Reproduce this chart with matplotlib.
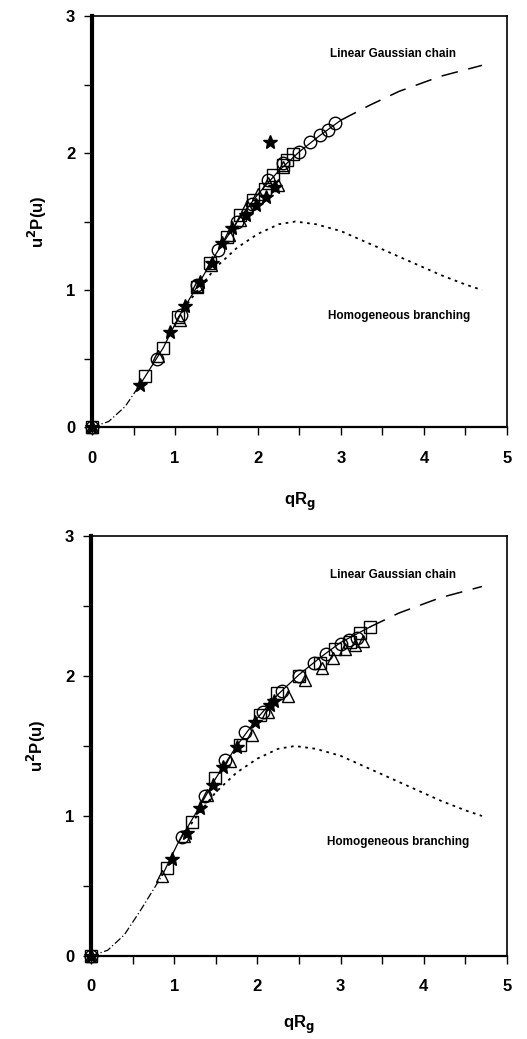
"""Kratky-type plot u^2 P(u) vs qRg, two stacked panels."""

import matplotlib
matplotlib.use("Agg")
import matplotlib.pyplot as plt
from matplotlib.ticker import MultipleLocator

plt.rcParams["font.family"] = ["Liberation Sans", "DejaVu Sans"]
plt.rcParams["font.weight"] = "bold"
plt.rcParams["mathtext.default"] = "bf"

# theory curves (same in both panels)
gauss_x = [0.0, 0.2, 0.4, 0.6, 0.86, 1.04, 1.27, 1.5, 1.75, 2.0, 2.25, 2.5,
           2.75, 3.0, 3.35, 3.7, 4.2, 4.7]
gauss_y = [0.0, 0.04, 0.15, 0.33, 0.58, 0.80, 1.03, 1.27, 1.50, 1.70, 1.87,
           2.01, 2.13, 2.24, 2.35, 2.45, 2.56, 2.64]
branch_x = [1.15, 1.3, 1.5, 1.75, 2.0, 2.25, 2.45, 2.7, 3.0, 3.3, 3.6, 3.9,
            4.2, 4.5, 4.7]
branch_y = [0.90, 1.02, 1.17, 1.31, 1.41, 1.48, 1.50, 1.48, 1.43, 1.35, 1.27,
            1.19, 1.11, 1.04, 1.00]

# top panel data
top_star_x = [0.0, 0.58, 0.94, 1.12, 1.30, 1.45, 1.57, 1.69, 1.85, 1.97, 2.10, 2.20, 2.14]
top_star_y = [0.0, 0.31, 0.69, 0.88, 1.06, 1.20, 1.34, 1.45, 1.55, 1.62, 1.68, 1.75, 2.08]
top_sq_x = [0.0, 0.64, 0.86, 1.04, 1.27, 1.42, 1.63, 1.78, 1.94, 2.08, 2.18, 2.30, 2.35, 2.42]
top_sq_y = [0.0, 0.37, 0.58, 0.80, 1.02, 1.20, 1.39, 1.55, 1.66, 1.74, 1.84, 1.91, 1.95, 1.99]
top_circ_x = [0.0, 0.78, 1.07, 1.26, 1.52, 1.75, 1.93, 2.12, 2.30, 2.50, 2.63, 2.75, 2.84, 2.93]
top_circ_y = [0.0, 0.50, 0.82, 1.04, 1.29, 1.50, 1.63, 1.80, 1.93, 2.01, 2.08, 2.13, 2.17, 2.22]
top_tri_x = [0.0, 0.80, 1.06, 1.27, 1.43, 1.65, 1.78, 1.87, 2.00, 2.12, 2.24, 2.30]
top_tri_y = [0.0, 0.52, 0.78, 1.03, 1.18, 1.40, 1.51, 1.61, 1.70, 1.78, 1.77, 1.90]

# bottom panel data
bot_star_x = [0.0, 0.97, 1.15, 1.31, 1.47, 1.59, 1.75, 1.97, 2.15, 2.20]
bot_star_y = [0.0, 0.69, 0.88, 1.06, 1.22, 1.35, 1.49, 1.67, 1.79, 1.82]
bot_sq_x = [0.0, 0.91, 1.21, 1.49, 1.79, 2.03, 2.24, 2.50, 2.75, 2.93, 3.11, 3.23, 3.35]
bot_sq_y = [0.0, 0.63, 0.96, 1.27, 1.51, 1.72, 1.88, 2.00, 2.09, 2.19, 2.24, 2.31, 2.35]
bot_circ_x = [0.0, 1.09, 1.37, 1.61, 1.85, 2.07, 2.30, 2.50, 2.68, 2.83, 3.00, 3.10, 3.20]
bot_circ_y = [0.0, 0.85, 1.14, 1.40, 1.60, 1.74, 1.89, 2.00, 2.09, 2.16, 2.23, 2.26, 2.27]
bot_tri_x = [0.0, 0.85, 1.12, 1.40, 1.67, 1.93, 2.13, 2.37, 2.57, 2.78, 2.91, 3.05, 3.17, 3.27]
bot_tri_y = [0.0, 0.57, 0.86, 1.15, 1.39, 1.58, 1.74, 1.86, 1.97, 2.06, 2.13, 2.19, 2.22, 2.25]


def split_curve(xs, ys, lo, hi):
    # segments share their end points so the line has no gaps
    i = next(k for k, x in enumerate(xs) if x >= lo)
    j = next(k for k, x in enumerate(xs) if x >= hi)
    pts = list(zip(xs, ys))
    return pts[: i + 1], pts[i: j + 1], pts[j:]


def draw_panel(ax, stars, squares, circles, tris, dashdot_end, dashed_start, xpad):
    a, b, c = split_curve(gauss_x, gauss_y, dashdot_end, dashed_start)
    ax.plot(*zip(*a), color="black", lw=0.9, ls=(0, (6, 2, 1, 2)))
    ax.plot(*zip(*b), color="black", lw=0.9)
    ax.plot(*zip(*c), color="black", lw=1.1, ls=(0, (11, 7)))
    ax.plot(branch_x, branch_y, color="black", lw=1.3, ls=(0, (1.5, 2.5)))

    mk = dict(ls="none", mec="black", mew=1.0, clip_on=False, zorder=4)
    ax.plot(*squares, marker="s", ms=8.5, mfc="none", **mk)
    ax.plot(*circles, marker="o", ms=9, mfc="none", **mk)
    ax.plot(*tris, marker="^", ms=9, mfc="none", **mk)
    ax.plot(*stars, marker="*", ms=10, mfc="black", **mk)

    ax.set_xlim(0, 5)
    ax.set_ylim(0, 3)
    ax.xaxis.set_major_locator(MultipleLocator(1))
    ax.xaxis.set_minor_locator(MultipleLocator(0.5))
    ax.yaxis.set_major_locator(MultipleLocator(1))
    ax.yaxis.set_minor_locator(MultipleLocator(0.5))
    ax.tick_params(which="both", direction="out", length=6, width=1.0,
                   labelsize=12)
    ax.tick_params(axis="x", pad=11)
    ax.tick_params(axis="y", pad=6)
    ax.spines["left"].set_linewidth(3.0)
    ax.spines["bottom"].set_linewidth(1.6)
    ax.spines["top"].set_linewidth(1.2)
    ax.spines["right"].set_linewidth(1.2)
    ax.set_xlabel("qR$_g$", fontsize=12, fontweight="bold", labelpad=xpad)
    ax.set_ylabel("u$^2$P(u)", fontsize=12, fontweight="bold", labelpad=12)
    ax.text(2.87, 2.7, "Linear Gaussian chain", fontsize=8.5, fontweight="bold")
    ax.text(2.84, 0.79, "Homogeneous branching", fontsize=8.5, fontweight="bold")


fig = plt.figure(figsize=(5.27, 10.39), dpi=100)
ax1 = fig.add_axes([0.1746, 0.589, 0.7874, 0.3956])
ax2 = fig.add_axes([0.1727, 0.080, 0.7893, 0.404])

draw_panel(ax1, (top_star_x, top_star_y), (top_sq_x, top_sq_y),
           (top_circ_x, top_circ_y), (top_tri_x, top_tri_y), 0.6, 3.0, 18)
draw_panel(ax2, (bot_star_x, bot_star_y), (bot_sq_x, bot_sq_y),
           (bot_circ_x, bot_circ_y), (bot_tri_x, bot_tri_y), 0.86, 3.35, 14)

fig.savefig("out.png", dpi=100)
